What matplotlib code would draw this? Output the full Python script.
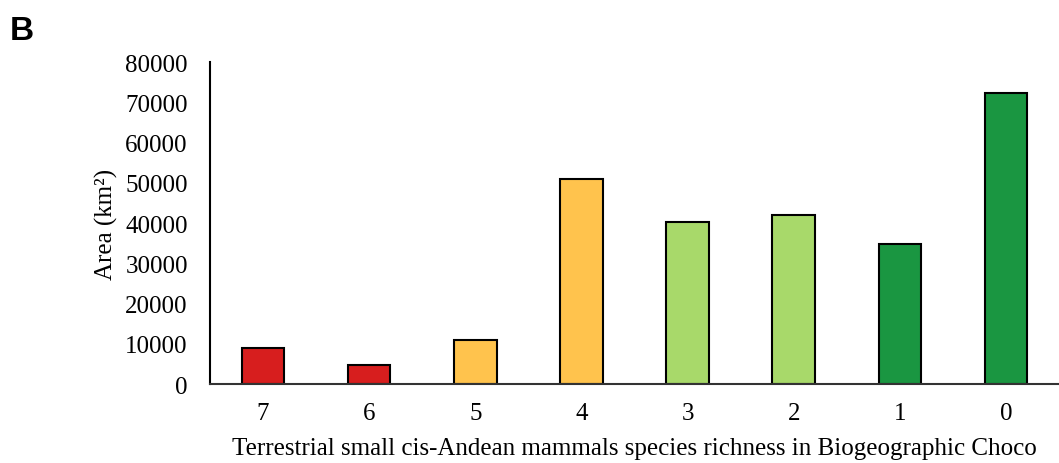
import matplotlib
matplotlib.use("Agg")
import matplotlib.pyplot as plt

# datos
categorias = ["7", "6", "5", "4", "3", "2", "1", "0"]
areas = [8900, 4700, 10900, 50900, 40200, 42100, 34800, 72300]
colores = ["#D71E1E", "#D71E1E", "#FFC34D", "#FFC34D",
           "#A8D96A", "#A8D96A", "#1A9641", "#1A9641"]
yticks = [0, 10000, 20000, 30000, 40000, 50000, 60000, 70000, 80000]

plt.rcParams['font.family'] = ['Liberation Serif', 'DejaVu Serif']

fig = plt.figure(figsize=(10.59, 4.64), dpi=100)
ax = fig.add_axes([0.1983, 0.170, 0.8017, 0.694])

x = list(range(len(categorias)))
ax.bar(x, areas, width=0.4, color=colores, edgecolor="black", linewidth=1.5)

ax.set_xlim(-0.5, len(categorias) - 0.5)
ax.set_ylim(0, 80000)
ax.set_yticks(yticks)
ax.set_yticklabels([str(v) for v in yticks])
ax.set_xticks(x)
ax.set_xticklabels(categorias)
ax.tick_params(axis='both', length=0, labelsize=18)
ax.tick_params(axis='y', pad=16)
ax.tick_params(axis='x', pad=13)

for s in ["top", "right"]:
    ax.spines[s].set_visible(False)
ax.spines["left"].set_linewidth(1.5)
ax.spines["bottom"].set_linewidth(1.5)
ax.spines["bottom"].set_color("#333333")

ax.set_ylabel("Area (km²)", fontsize=18, labelpad=5)
ax.set_xlabel("Terrestrial small cis-Andean mammals species richness in Biogeographic Choco",
              fontsize=18, labelpad=9)

fig.text(0.009, 0.965, "B", family="Liberation Sans", fontweight="bold",
         fontsize=24, va="top", ha="left")

fig.savefig("out.png", dpi=100)
